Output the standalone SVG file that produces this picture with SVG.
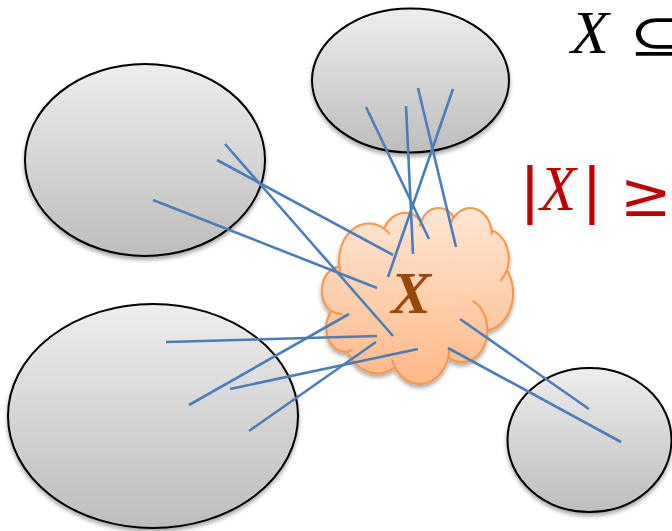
<svg xmlns="http://www.w3.org/2000/svg" width="672" height="531" viewBox="0 0 672 531">
<defs>
<linearGradient id="gray" x1="0" y1="0" x2="0" y2="1">
<stop offset="0" stop-color="#ededed"/>
<stop offset="1" stop-color="#bdbdbd"/>
</linearGradient>
<linearGradient id="orange" x1="0" y1="0" x2="0" y2="1">
<stop offset="0" stop-color="#fee6d4"/>
<stop offset="1" stop-color="#ffb987"/>
</linearGradient>
<filter id="shadow" x="-10%" y="-10%" width="120%" height="125%">
<feGaussianBlur in="SourceAlpha" stdDeviation="2"/>
<feOffset dx="0" dy="3" result="b"/>
<feComponentTransfer><feFuncA type="linear" slope="0.35"/></feComponentTransfer>
<feMerge><feMergeNode/><feMergeNode in="SourceGraphic"/></feMerge>
</filter>
</defs>
<style>
.set{fill:url(#gray);stroke:#000;stroke-width:2}
.cloud{fill:url(#orange);stroke:#f79646;stroke-width:2}
.inner{fill:none;stroke:#f79646;stroke-width:2}
.edge{stroke:#4a7ebb;stroke-width:2.6;fill:none}
.serif{font-family:"Liberation Serif","DejaVu Serif",serif}
.sym{font-family:"DejaVu Serif",serif}
</style>
<g id="set-top" filter="url(#shadow)"><ellipse class="set" cx="410.5" cy="80.5" rx="98.5" ry="72"/></g>
<g id="set-topleft" filter="url(#shadow)"><ellipse class="set" cx="145" cy="160" rx="120" ry="96"/></g>
<g id="set-bottomleft" filter="url(#shadow)"><ellipse class="set" cx="153" cy="416" rx="145" ry="112"/></g>
<g id="set-bottomright" filter="url(#shadow)"><ellipse class="set" cx="589.5" cy="440" rx="82" ry="72"/></g>
<g id="cloud-X">
<g filter="url(#shadow)">
<path class="cloud" vector-effect="non-scaling-stroke" transform="translate(322,207.4) scale(0.0044213,0.004073)" d="M3900 14370A6753 9190 0 0 1 14005.1 5202A5333 7267 0 0 1 22455.9 3431.6A4365 5945 0 0 1 29832.9 2480.4A4857 6595 0 0 1 38318.1 5575.6A5333 7273 0 0 1 41818.3 15459.3A6775 9220 0 0 1 37404.4 30202.6A5785 7867 0 0 1 28556.2 36812.9A6752 9215 0 0 1 16480.6 39263.4A7720 10543 0 0 1 5804.9 35469.2A4360 5918 0 0 1 2113.6 25547.4A4345 5945 0 0 1 3863.7 14503.7Z"/>
</g>
<path class="inner" vector-effect="non-scaling-stroke" transform="translate(322,207.4) scale(0.0044213,0.004073)" d="M4693 26177A4345 5945 0 0 1 2159.8 25380.1M6928 34899A4360 5918 0 0 1 5819.6 35280.4M16478 39090A6752 9215 0 0 1 15810.3 37350.2M28827 34751A6752 9215 0 0 1 28560.4 36660.3M34129 22954A5785 7867 0 0 1 37380.4 30089.6M41798 15354A5333 7273 0 0 1 40350.2 18029.7M38324 5426A4857 6595 0 0 1 38400.4 6689.6M29078 3952A4857 6595 0 0 1 29819.7 2340.5M22141 4720A4365 5945 0 0 1 22500.2 3330.2M14000 5192A6753 9190 0 0 1 15299.7 6540.4M4127 15789A6753 9190 0 0 1 3900.2 14370.2"/>
<text class="serif" x="411" y="313" text-anchor="middle" style="font-size:60px;font-weight:bold;font-style:italic" fill="#984807">X</text>
</g>
<g id="connectors">
<line class="edge" x1="366" y1="107" x2="429" y2="239"/>
<line class="edge" x1="406" y1="106" x2="413" y2="254"/>
<line class="edge" x1="418" y1="88" x2="456" y2="247"/>
<line class="edge" x1="453" y1="89" x2="388" y2="277"/>
<line class="edge" x1="225" y1="144" x2="393" y2="336"/>
<line class="edge" x1="217" y1="160" x2="393" y2="255"/>
<line class="edge" x1="153" y1="200" x2="377" y2="288"/>
<line class="edge" x1="166" y1="342" x2="377" y2="336"/>
<line class="edge" x1="189" y1="405" x2="349" y2="314"/>
<line class="edge" x1="230" y1="389" x2="418" y2="349"/>
<line class="edge" x1="249" y1="431" x2="376" y2="342"/>
<line class="edge" x1="460" y1="319" x2="589" y2="409"/>
<line class="edge" x1="448" y1="348" x2="621" y2="442"/>
</g>
<g id="formula-subset">
<text class="serif" x="571" y="53" style="font-size:62px;font-style:italic">X</text>
<text class="sym" x="629" y="52" style="font-size:48px" textLength="54" lengthAdjust="spacingAndGlyphs">⊆</text>
</g>
<g id="formula-size" fill="#c00000">
<text class="serif" x="523.6" y="210" style="font-size:64px" stroke="#c00000" stroke-width="2">|</text>
<text class="serif" x="540" y="210" style="font-size:64px;font-style:italic" textLength="36" lengthAdjust="spacingAndGlyphs">X</text>
<text class="serif" x="585.6" y="210" style="font-size:64px" stroke="#c00000" stroke-width="2">|</text>
<text class="sym" x="620" y="216" style="font-size:62px">≥</text>
</g>
</svg>
